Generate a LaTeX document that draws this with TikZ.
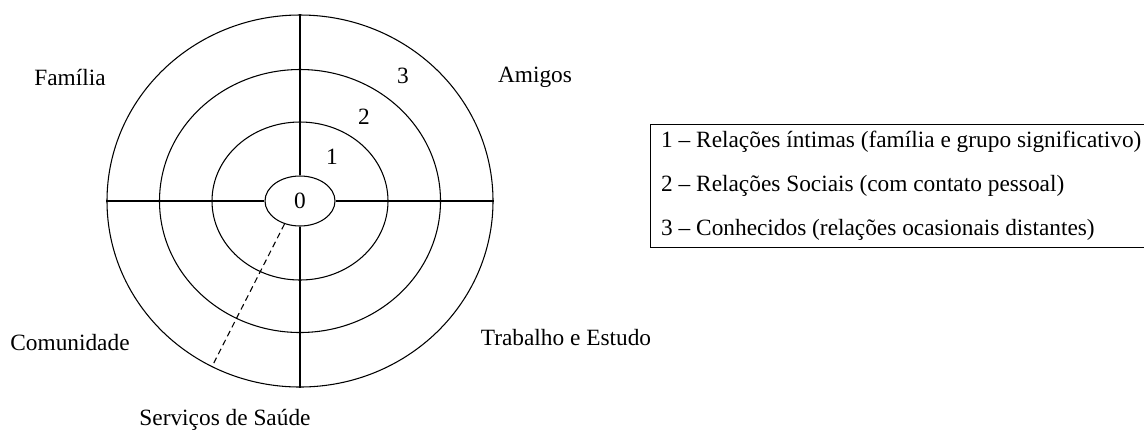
\documentclass[tikz,border=0pt]{standalone}
\usepackage{fontspec}
\setmainfont{Liberation Serif}
\usetikzlibrary{shapes.geometric}
\usetikzlibrary{positioning}

\begin{document}
\begin{tikzpicture}[x=0.75pt,y=-0.75pt,line width=0.8pt,
  font=\fontsize{17.5}{33}\selectfont,
  ring/.style={draw,ellipse,inner sep=0pt}]
 \useasboundingbox (0,0) rectangle (1144,430);
 \begin{scope}[every node/.style={ring}]
 \node [minimum width=289.5pt,minimum height=279pt] (r3) at (300,201) {};
 \node [minimum width=210.75pt,minimum height=197.25pt] (r2) at (300,201) {};
 \node [minimum width=132pt,minimum height=118.5pt] (r1) at (300,201) {};
 \node [minimum width=52.5pt,minimum height=37.5pt] (r0) at (300,201) {0};
 \end{scope}
 \draw (r0.north) -- (r3.north);
 \draw (r0.south) -- (r3.south);
 \draw (r0.west) -- (r3.west);
 \draw (r0.east) -- (r3.east);
 \draw [dash pattern=on 4.5pt off 3pt] (r0.236) -- (r3.242);
 \node (n1) at (332,157) {1};
 \node (n2) at (364,117) {2};
 \node (n3) at (403,76) {3};
 \node (familia) at (70,77) {Família};
 \node (amigos) at (535,77) {Amigos};
 \node (comunidade) at (70,343) {Comunidade};
 \node (trabalho) at (566,338) {Trabalho e Estudo};
 \node (saude) at (225,420) {Serviços de Saúde};
 \node [draw,align=left,anchor=north west,inner xsep=8pt,inner ysep=5pt] (legenda) at (650,124)
  {1 – Relações íntimas (família e grupo significativo)\hspace*{8pt}\\
   2 – Relações Sociais (com contato pessoal)\\
   3 – Conhecidos (relações ocasionais distantes)};
\end{tikzpicture}
\end{document}
